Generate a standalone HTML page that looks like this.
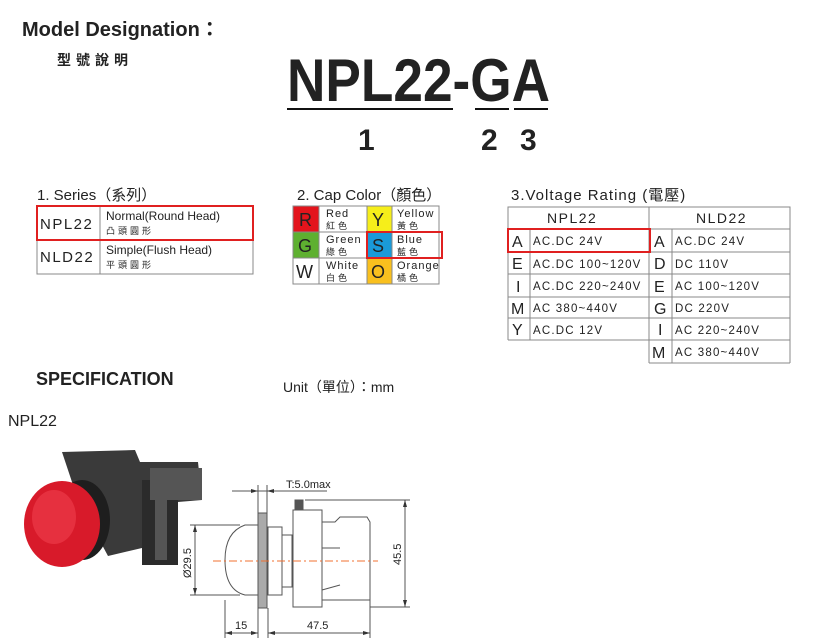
<!DOCTYPE html>
<html><head><meta charset="utf-8"><style>
html,body{margin:0;padding:0;background:#fff;width:830px;height:643px;overflow:hidden}
svg{display:block}
text{font-family:"Liberation Sans","Noto Sans CJK TC",sans-serif;fill:#222}
</style></head><body>
<svg width="830" height="643" viewBox="0 0 830 643" xmlns="http://www.w3.org/2000/svg">
<text x="22" y="36" font-size="20" font-weight="bold">Model Designation：</text>
<text x="57" y="65" font-size="14" font-weight="bold" letter-spacing="5">型號說明</text>
<text x="287" y="101" font-size="60" font-weight="bold" fill="#111" textLength="263" lengthAdjust="spacingAndGlyphs">NPL22-GA</text>
<g stroke="#111" stroke-width="2"><line x1="287" y1="109" x2="453" y2="109"/><line x1="475" y1="109" x2="509" y2="109"/><line x1="514" y1="109" x2="548" y2="109"/></g>
<g font-size="30" font-weight="bold"><text x="358" y="150">1</text><text x="481" y="150">2</text><text x="520" y="150">3</text></g>

<text x="37" y="200" font-size="15">1. Series（系列）</text>
<g fill="none" stroke="#888" stroke-width="1"><rect x="37" y="206" width="216" height="68"/><line x1="37" y1="240" x2="253" y2="240"/><line x1="100" y1="206" x2="100" y2="274"/></g>
<rect x="37" y="206" width="216" height="34" fill="none" stroke="#e02020" stroke-width="2"/>
<g font-size="15" letter-spacing="1.5"><text x="40" y="229">NPL22</text><text x="40" y="262">NLD22</text></g>
<g font-size="12"><text x="106" y="220">Normal(Round Head)</text><text x="106" y="254">Simple(Flush Head)</text></g>
<g font-size="9" letter-spacing="3"><text x="106" y="234">凸頭圓形</text><text x="106" y="268">平頭圓形</text></g>

<text x="297" y="200" font-size="15">2. Cap Color（顏色）</text>
<rect x="293" y="206" width="26" height="26" fill="#e3141c"/>
<rect x="293" y="232" width="26" height="26" fill="#5eb030"/>
<rect x="367" y="206" width="25" height="26" fill="#f6ee1a"/>
<rect x="367" y="232" width="25" height="26" fill="#1a9ad8"/>
<rect x="367" y="258" width="25" height="26" fill="#f9c01e"/>
<g fill="none" stroke="#888"><rect x="293" y="206" width="146" height="78"/><line x1="293" y1="232" x2="439" y2="232"/><line x1="293" y1="258" x2="439" y2="258"/><line x1="319" y1="206" x2="319" y2="284"/><line x1="367" y1="206" x2="367" y2="284"/><line x1="392" y1="206" x2="392" y2="284"/></g>
<rect x="367" y="232" width="75" height="26" fill="none" stroke="#e02020" stroke-width="2"/>
<g font-size="18"><text x="299" y="226">R</text><text x="298" y="252">G</text><text x="296" y="278">W</text><text x="372" y="226">Y</text><text x="372" y="252">S</text><text x="371" y="278">O</text></g>
<g font-size="11" letter-spacing="1"><text x="326" y="217">Red</text><text x="326" y="243">Green</text><text x="326" y="269">White</text><text x="397" y="217">Yellow</text><text x="397" y="243">Blue</text><text x="397" y="269">Orange</text></g>
<g font-size="9" letter-spacing="3"><text x="326" y="229">紅色</text><text x="326" y="255">綠色</text><text x="326" y="281">白色</text><text x="397" y="229">黃色</text><text x="397" y="255">藍色</text><text x="397" y="281">橘色</text></g>

<text x="511" y="200" font-size="15" letter-spacing="1">3.Voltage Rating (電壓)</text>
<g fill="none" stroke="#888">
<rect x="508" y="207" width="282" height="22"/>
<line x1="649" y1="207" x2="649" y2="363"/>
<line x1="508" y1="229" x2="508" y2="340"/><line x1="790" y1="229" x2="790" y2="363"/>
<line x1="530" y1="229" x2="530" y2="340"/><line x1="672" y1="229" x2="672" y2="363"/>
<line x1="508" y1="252" x2="790" y2="252"/><line x1="508" y1="274" x2="790" y2="274"/><line x1="508" y1="297" x2="790" y2="297"/><line x1="508" y1="318" x2="790" y2="318"/><line x1="508" y1="340" x2="790" y2="340"/><line x1="649" y1="363" x2="790" y2="363"/>
</g>
<rect x="508" y="229" width="142" height="23" fill="none" stroke="#e02020" stroke-width="2"/>
<g font-size="14" letter-spacing="1.5"><text x="547" y="223">NPL22</text><text x="696" y="223">NLD22</text></g>
<g font-size="16"><text x="512" y="247">A</text><text x="512" y="269">E</text><text x="516" y="292">I</text><text x="511" y="314">M</text><text x="512" y="335">Y</text>
<text x="654" y="247">A</text><text x="654" y="269">D</text><text x="654" y="292">E</text><text x="654" y="314">G</text><text x="658" y="335">I</text><text x="652" y="358">M</text></g>
<g font-size="11.5" letter-spacing="1.2"><text x="533" y="245">AC.DC 24V</text><text x="533" y="268">AC.DC 100~120V</text><text x="533" y="290">AC.DC 220~240V</text><text x="533" y="312">AC 380~440V</text><text x="533" y="334">AC.DC 12V</text>
<text x="675" y="245">AC.DC 24V</text><text x="675" y="268">DC 110V</text><text x="675" y="290">AC 100~120V</text><text x="675" y="312">DC 220V</text><text x="675" y="334">AC 220~240V</text><text x="675" y="356">AC 380~440V</text></g>

<text x="36" y="385" font-size="18" font-weight="bold">SPECIFICATION</text>
<text x="283" y="392" font-size="14">Unit（單位）：mm</text>
<text x="8" y="426" font-size="16">NPL22</text>

<!-- photo -->
<polygon points="62,452 135,450 140,462 198,462 202,500 178,502 175,565 145,565 142,548 108,556 78,500" fill="#3a3a3a"/>
<rect x="142" y="480" width="36" height="85" fill="#2b2b2b"/>
<rect x="150" y="468" width="52" height="32" fill="#555"/>
<rect x="155" y="500" width="12" height="60" fill="#555"/>
<ellipse cx="82" cy="520" rx="28" ry="40" fill="#1e1e1e"/>
<ellipse cx="62" cy="524" rx="38" ry="43" fill="#d81a2a"/>
<ellipse cx="54" cy="517" rx="22" ry="27" fill="#ec3a48" opacity=".7"/>

<!-- drawing -->
<g fill="none" stroke="#555" stroke-width="1">
<rect x="258" y="513" width="9" height="95" fill="#aaa"/>
<path d="M258,525 L245,525 Q225,532 225,560 Q225,590 245,595 L258,595"/>
<rect x="268" y="527" width="14" height="68"/>
<rect x="282" y="535" width="10" height="52"/>
<rect x="293" y="510" width="29" height="97"/>
<rect x="295" y="500" width="8" height="10" fill="#555"/>
<path d="M322,522 L335,522 L340,517 L367,517 L370,522 L370,600 L322,600"/>
<path d="M322,548 L340,548 M322,590 L340,585"/>
<line x1="195" y1="525" x2="195" y2="595"/><line x1="190" y1="525" x2="240" y2="525"/><line x1="190" y1="595" x2="240" y2="595"/>
<line x1="405" y1="500" x2="405" y2="607"/><line x1="305" y1="500" x2="410" y2="500"/><line x1="370" y1="607" x2="410" y2="607"/>
<line x1="225" y1="600" x2="225" y2="638"/><line x1="258" y1="608" x2="258" y2="638"/><line x1="268" y1="608" x2="268" y2="638"/><line x1="370" y1="600" x2="370" y2="638"/>
<line x1="225" y1="633" x2="258" y2="633"/><line x1="268" y1="633" x2="370" y2="633"/>
<line x1="258" y1="485" x2="258" y2="513"/><line x1="267" y1="485" x2="267" y2="513"/>
<line x1="232" y1="491" x2="327" y2="491"/>
</g>
<g fill="#333">
<path d="M405,500 l-2,7 h4z M405,607 l-2,-7 h4z M195,525 l-2,7 h4z M195,595 l-2,-7 h4z M225,633 l7,-2 v4z M258,633 l-7,-2 v4z M268,633 l7,-2 v4z M370,633 l-7,-2 v4z M258,491 l-7,-2 v4z M267,491 l7,-2 v4z"/>
</g>
<line x1="213" y1="561" x2="378" y2="561" stroke="#f07030" stroke-dasharray="8,3,2,3"/>
<g font-size="11" fill="#333"><text x="286" y="488">T:5.0max</text><text x="235" y="629">15</text><text x="307" y="629">47.5</text>
<text transform="translate(191,578) rotate(-90)">Ø29.5</text><text transform="translate(401,565) rotate(-90)">45.5</text></g>
</svg>
</body></html>
